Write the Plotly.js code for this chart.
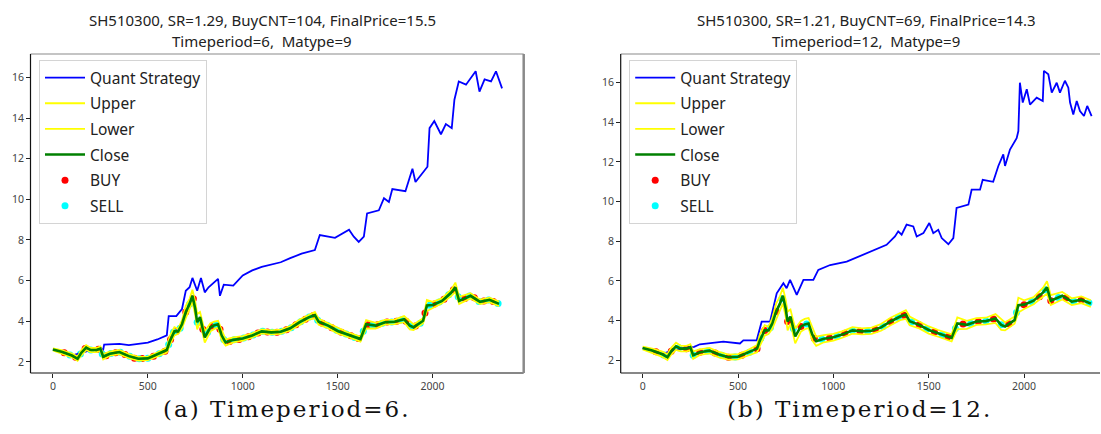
<!DOCTYPE html>
<html>
<head>
<meta charset="utf-8">
<script src="https://cdn.plot.ly/plotly-3.0.1.min.js"></script>
<style>html,body{margin:0;padding:0;background:#fff;}#chart{width:1101px;height:434px;}</style>
</head>
<body>
<div id="chart"></div>
<script>
// ---------- shared close price ----------
const closeX = [0,50,100,130,150,175,200,230,250,265,300,350,400,450,500,550,600,615,640,660,680,700,720,735,750,760,775,800,830,850,870,890,910,950,1000,1050,1100,1150,1200,1250,1300,1350,1380,1400,1450,1500,1550,1600,1620,1650,1700,1750,1800,1850,1880,1900,1950,1970,2000,2050,2100,2120,2140,2200,2250,2300,2350];
const closeY = [2.61,2.48,2.31,2.15,2.45,2.70,2.58,2.58,2.65,2.25,2.40,2.48,2.28,2.15,2.17,2.36,2.58,3.00,3.50,3.50,3.85,4.45,4.85,5.25,4.60,3.95,4.20,3.20,3.70,3.80,3.85,3.28,2.95,3.08,3.15,3.30,3.50,3.45,3.48,3.65,3.95,4.20,4.30,3.97,3.78,3.52,3.35,3.18,3.12,3.85,3.78,3.95,3.97,4.10,3.78,3.70,4.02,4.77,4.80,5.00,5.42,5.67,5.00,5.25,4.95,5.05,4.85];

// ---------- panel (a): Timeperiod=6 ----------
const upperL = [2.66,2.56,2.40,2.26,2.58,2.82,2.68,2.68,2.76,2.38,2.50,2.58,2.38,2.24,2.26,2.46,2.70,3.25,3.70,3.62,4.05,4.75,5.10,5.55,4.95,4.35,4.45,3.50,3.90,3.98,4.02,3.55,3.10,3.20,3.26,3.40,3.60,3.55,3.58,3.76,4.08,4.32,4.45,4.12,3.90,3.64,3.46,3.30,3.24,4.05,3.92,4.06,4.08,4.25,4.00,3.84,4.14,5.05,4.95,5.12,5.58,5.90,5.20,5.38,5.06,5.16,4.96];
const lowerL = [2.56,2.40,2.22,2.05,2.32,2.58,2.48,2.48,2.54,2.12,2.30,2.38,2.18,2.06,2.08,2.26,2.46,2.80,3.30,3.38,3.65,4.15,4.60,4.95,4.30,3.60,3.95,2.95,3.50,3.62,3.68,3.05,2.80,2.96,3.04,3.20,3.40,3.35,3.38,3.54,3.82,4.08,4.15,3.82,3.66,3.40,3.24,3.06,3.00,3.65,3.64,3.84,3.86,3.95,3.60,3.56,3.90,4.50,4.65,4.88,5.26,5.44,4.85,5.12,4.84,4.94,4.74];
const quantXL = [0,50,100,150,200,250,265,270,300,350,400,450,500,550,600,610,650,680,700,720,735,760,780,800,820,870,880,900,950,1000,1050,1100,1150,1200,1250,1310,1380,1406,1486,1560,1585,1611,1638,1655,1717,1744,1770,1788,1857,1894,1910,1973,1984,2009,2044,2070,2101,2115,2138,2176,2227,2247,2274,2308,2334,2366];
const quantYL = [2.61,2.48,2.31,2.45,2.58,2.65,2.6,2.85,2.86,2.88,2.82,2.9,2.95,3.1,3.3,4.25,4.25,4.6,5.5,5.67,6.13,5.5,6.13,5.42,5.67,6.08,5.25,5.8,5.75,6.25,6.5,6.67,6.8,6.9,7.1,7.32,7.5,8.24,8.1,8.5,8.16,7.9,8.16,9.3,9.46,10.05,9.87,10.5,10.4,11.5,10.85,11.6,13.5,13.85,13.2,13.7,13.5,14.9,15.8,15.64,16.3,15.3,15.9,15.8,16.3,15.46];
const buyXL = [60,120,170,240,280,330,380,430,470,530,590,620,650,700,740,790,840,880,930,980,1030,1080,1130,1180,1230,1280,1330,1370,1420,1470,1520,1570,1610,1660,1710,1760,1810,1860,1910,1960,2010,2060,2110,2170,2220,2270,2320];
const buyYL = [2.45,2.22,2.66,2.62,2.30,2.45,2.36,2.18,2.16,2.28,2.52,3.10,3.50,4.45,5.10,3.60,3.75,3.60,3.00,3.10,3.24,3.42,3.47,3.46,3.58,3.83,4.10,4.27,3.90,3.68,3.45,3.28,3.15,3.83,3.82,3.96,4.00,4.00,3.76,4.40,4.85,5.08,5.55,5.12,5.15,4.99,4.97];
const sellXL = [90,145,200,260,305,355,405,455,500,560,610,635,670,720,760,815,860,900,955,1005,1055,1105,1155,1205,1255,1305,1350,1395,1445,1495,1545,1590,1635,1685,1735,1785,1835,1885,1935,1985,2035,2085,2135,2195,2245,2295,2345];
const sellYL = [2.34,2.38,2.58,2.38,2.41,2.47,2.27,2.15,2.17,2.40,2.85,3.45,3.65,4.85,3.95,3.45,3.82,3.10,3.09,3.17,3.32,3.50,3.45,3.50,3.68,3.97,4.20,4.05,3.80,3.55,3.37,3.20,3.50,3.80,3.90,3.96,4.06,3.76,3.90,4.78,4.94,5.30,5.20,5.24,4.97,5.04,4.87];

// ---------- panel (b): Timeperiod=12 ----------
const upperR = [2.68,2.58,2.44,2.30,2.62,2.88,2.72,2.72,2.80,2.44,2.54,2.62,2.42,2.28,2.30,2.50,2.76,3.30,3.76,3.68,4.12,4.85,5.22,5.65,5.05,4.45,4.55,3.60,3.98,4.08,4.12,3.65,3.18,3.26,3.32,3.46,3.66,3.60,3.64,3.82,4.14,4.38,4.52,4.20,3.96,3.70,3.52,3.36,3.30,4.15,3.98,4.12,4.14,4.32,4.08,3.90,4.20,5.15,5.02,5.18,5.66,5.98,5.28,5.44,5.12,5.22,5.02];
const lowerR = [2.54,2.36,2.18,2.00,2.28,2.52,2.44,2.44,2.50,2.06,2.26,2.34,2.14,2.02,2.04,2.22,2.40,2.72,3.24,3.32,3.58,4.05,4.50,4.85,4.20,3.50,3.85,2.85,3.44,3.56,3.62,2.98,2.72,2.90,2.98,3.14,3.34,3.30,3.32,3.48,3.76,4.02,4.08,3.76,3.60,3.34,3.18,3.00,2.94,3.56,3.58,3.78,3.80,3.88,3.52,3.50,3.84,4.40,4.58,4.82,5.20,5.36,4.78,5.06,4.78,4.88,4.68];
const quantXR = [0,50,100,150,200,250,270,300,423,510,528,598,624,668,703,738,755,773,808,843,895,921,983,1070,1150,1244,1279,1323,1340,1358,1384,1419,1437,1472,1503,1524,1550,1568,1603,1629,1646,1708,1725,1769,1783,1838,1865,1891,1900,1926,1961,1970,1978,1993,2014,2031,2066,2098,2104,2127,2145,2171,2188,2214,2232,2241,2258,2276,2293,2314,2331,2354];
const quantYR = [2.61,2.48,2.31,2.45,2.58,2.65,2.67,2.8,2.93,2.84,3.0,3.0,3.94,3.94,5.37,5.88,5.63,6.05,5.29,6.05,6.05,6.55,6.8,6.97,7.3,7.7,7.82,8.24,8.5,8.33,8.84,8.75,8.24,8.41,8.92,8.41,8.58,8.16,7.85,8.16,9.68,9.85,10.6,10.6,11.1,11.0,11.8,12.38,11.8,12.63,13.2,13.56,16.0,15.0,15.67,14.9,15.25,15.08,16.6,16.43,15.5,16.0,15.5,16.1,15.75,15.0,14.4,15.08,14.57,14.32,14.83,14.32];
const buyXR = [70,150,230,300,380,450,520,600,640,700,760,830,900,980,1060,1140,1220,1300,1370,1450,1530,1600,1680,1760,1840,1920,2000,2080,2140,2220,2300];
const buyYR = [2.42,2.45,2.58,2.40,2.36,2.15,2.25,2.58,3.50,4.45,3.95,3.70,3.10,3.12,3.35,3.46,3.55,3.95,4.27,3.78,3.42,3.18,3.82,3.95,4.07,3.83,4.80,5.20,5.00,5.13,5.05];
const sellXR = [110,190,265,340,415,485,560,620,670,730,790,860,940,1020,1100,1180,1260,1340,1410,1490,1570,1640,1720,1800,1880,1960,2040,2110,2180,2260,2340];
const sellYR = [2.26,2.62,2.25,2.46,2.24,2.16,2.40,3.10,3.65,5.10,3.60,3.82,3.05,3.20,3.50,3.46,3.70,4.15,3.93,3.57,3.28,3.60,3.85,3.97,3.78,4.40,4.96,5.55,5.16,4.97,4.89];

const titlesTop = ["SH510300, SR=1.29, BuyCNT=104, FinalPrice=15.5", "SH510300, SR=1.21, BuyCNT=69, FinalPrice=14.3"];
const titlesSub = ["Timeperiod=6,  Matype=9", "Timeperiod=12,  Matype=9"];
const captions = ["(a) Timeperiod=6.", "(b) Timeperiod=12."];
const xTicks = [0, 500, 1000, 1500, 2000];
const yTicks = [2, 4, 6, 8, 10, 12, 14, 16];

const W = 1101, H = 434;
const uiFont = "Noto Sans, Open Sans, sans-serif";

function panelTraces(sfx, legendName, quantX, quantY, upper, lower, buyX, buyY, sellX, sellY) {
  const xa = sfx === '' ? 'x' : 'x2', ya = sfx === '' ? 'y' : 'y2';
  const base = {xaxis: xa, yaxis: ya, legend: legendName, type: 'scatter'};
  return [
    Object.assign({}, base, {x: buyX, y: buyY, mode: 'markers', name: 'BUY', legendgroup: 'b' + sfx, legendrank: 5,
      marker: {color: '#ff0000', size: 7}}),
    Object.assign({}, base, {x: sellX, y: sellY, mode: 'markers', name: 'SELL', legendgroup: 's' + sfx, legendrank: 6,
      marker: {color: '#00ffff', size: 7}}),
    Object.assign({}, base, {x: quantX, y: quantY, mode: 'lines', name: 'Quant Strategy', legendgroup: 'q' + sfx, legendrank: 1,
      line: {color: '#0000ff', width: 1.8}}),
    Object.assign({}, base, {x: closeX, y: upper, mode: 'lines', name: 'Upper', legendgroup: 'u' + sfx, legendrank: 2,
      line: {color: '#ffff00', width: 1.8}}),
    Object.assign({}, base, {x: closeX, y: lower, mode: 'lines', name: 'Lower', legendgroup: 'l' + sfx, legendrank: 3,
      line: {color: '#ffff00', width: 1.8}}),
    Object.assign({}, base, {x: closeX, y: closeY, mode: 'lines', name: 'Close', legendgroup: 'c' + sfx, legendrank: 4,
      line: {color: '#008000', width: 2.6}})
  ];
}

const data = [].concat(
  panelTraces('', 'legend', quantXL, quantYL, upperL, lowerL, buyXL, buyYL, sellXL, sellYL),
  panelTraces('2', 'legend2', quantXR, quantYR, upperR, lowerR, buyXR, buyYR, sellXR, sellYR)
);

// pixel geometry of the two axes boxes
const boxL = {l: 30.5, r: 523.7, t: 54, b: 373};
const boxR = {l: 620.7, r: 1100, t: 54, b: 373};
const px = v => v / W, py = v => 1 - v / H;

function axisX(box, range) {
  return {domain: [px(box.l), px(box.r)], range: range, tickvals: xTicks, ticks: 'outside', ticklen: 3.5, tickwidth: 1,
    tickcolor: '#222', showgrid: false, zeroline: false, showline: false,
    tickfont: {family: uiFont, size: 10.5, color: '#444'}};
}
function axisY(box, range, anchor) {
  return {domain: [py(box.b), py(box.t)], range: range, tickvals: yTicks, ticks: 'outside', ticklen: 3.5, tickwidth: 1,
    tickcolor: '#222', showgrid: false, zeroline: false, showline: false, anchor: anchor,
    tickfont: {family: uiFont, size: 10.5, color: '#444'}};
}

function frame(box, drawRight) {
  const s = [
    {type: 'line', xref: 'paper', yref: 'paper', x0: px(box.l), x1: px(box.r), y0: py(box.t), y1: py(box.t), line: {color: '#8a8a8a', width: 1.2}},
    {type: 'line', xref: 'paper', yref: 'paper', x0: px(box.l), x1: px(box.l), y0: py(box.b), y1: py(box.t), line: {color: '#111', width: 1.2}},
    {type: 'line', xref: 'paper', yref: 'paper', x0: px(box.l), x1: px(box.r), y0: py(box.b), y1: py(box.b), line: {color: '#111', width: 1.2}}
  ];
  if (drawRight) s.push({type: 'line', xref: 'paper', yref: 'paper', x0: px(box.r), x1: px(box.r), y0: py(box.b), y1: py(box.t), line: {color: '#8a8a8a', width: 2.5}});
  return s;
}

function legendDef(box) {
  return {x: px(box.l + 8.5), y: py(box.t + 6), xanchor: 'left', yanchor: 'top', bgcolor: 'rgba(255,255,255,0.85)',
    bordercolor: '#d4d4d4', borderwidth: 1, font: {family: uiFont, size: 15.5, color: '#222'},
    traceorder: 'grouped', tracegroupgap: 2.5, itemwidth: 40};
}

const annotations = [];
const centers = [262, 866], capCenters = [287, 859];
for (let i = 0; i < 2; i++) {
  annotations.push({xref: 'paper', yref: 'paper', x: px(centers[i]), y: py(20), xanchor: 'center', yanchor: 'middle', showarrow: false,
    text: titlesTop[i], font: {family: uiFont, size: 15, color: '#222'}});
  annotations.push({xref: 'paper', yref: 'paper', x: px(centers[i]), y: py(41), xanchor: 'center', yanchor: 'middle', showarrow: false,
    text: titlesSub[i], font: {family: uiFont, size: 15, color: '#222'}});
  annotations.push({xref: 'paper', yref: 'paper', x: px(capCenters[i]), y: py(409), xanchor: 'center', yanchor: 'middle', showarrow: false,
    text: '<span style="letter-spacing:2px">' + captions[i] + '</span>',
    font: {family: 'DejaVu Serif, Liberation Serif, serif', size: 23, color: '#111'}});
}

const layout = {
  width: W, height: H, margin: {l: 0, r: 0, t: 0, b: 0}, paper_bgcolor: '#fff', plot_bgcolor: '#fff',
  showlegend: true,
  xaxis: axisX(boxL, [-118, 2480]),
  yaxis: axisY(boxL, [1.45, 17.15], 'x'),
  xaxis2: axisX(boxR, [-115, 2398]),
  yaxis2: axisY(boxR, [1.35, 17.45], 'x2'),
  legend: legendDef(boxL),
  legend2: legendDef(boxR),
  shapes: frame(boxL, true).concat(frame(boxR, false)),
  annotations: annotations
};
layout.xaxis.anchor = 'y';
layout.xaxis2.anchor = 'y2';

Plotly.newPlot('chart', data, layout, {displayModeBar: false, staticPlot: true});
</script>
</body>
</html>
